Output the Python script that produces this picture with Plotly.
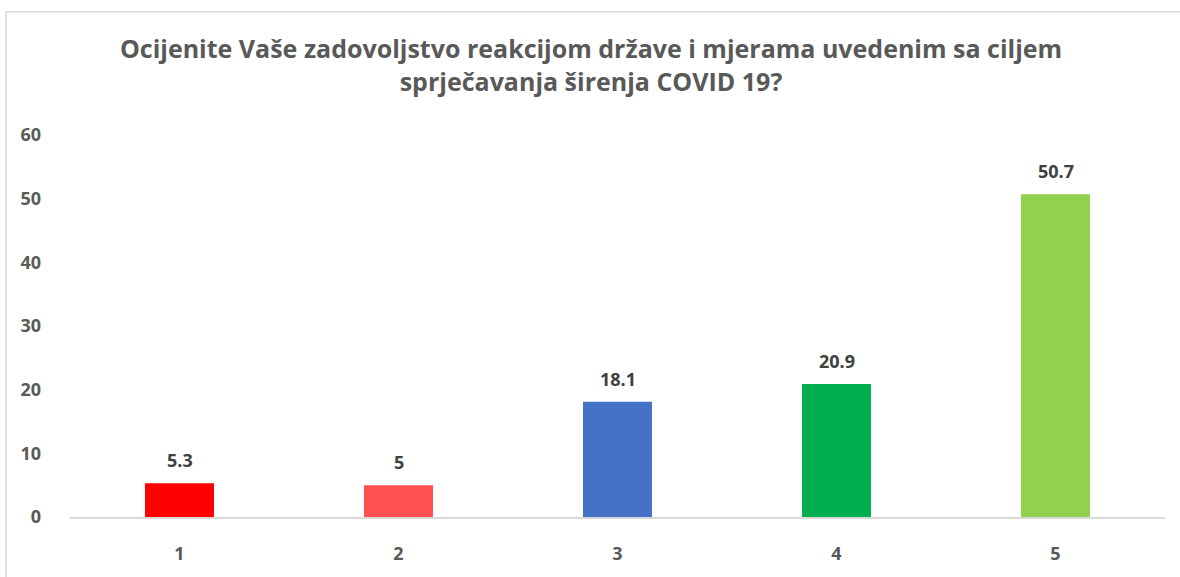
import plotly.graph_objects as go

categories = ["1", "2", "3", "4", "5"]
values = [5.3, 5, 18.1, 20.9, 50.7]
value_labels = ["5.3", "5", "18.1", "20.9", "50.7"]
bar_colors = ["#FF0000", "#FF5050", "#4472C4", "#00B050", "#92D050"]
y_ticks = [0, 10, 20, 30, 40, 50, 60]
title_text = "Ocijenite Vaše zadovoljstvo reakcijom države i mjerama uvedenim sa ciljem<br>sprječavanja širenja COVID 19?"

W, H = 1180, 577
ML, MR, MT, MB = 70, 15, 135, 58
FONT = "Open Sans"

fig = go.Figure()
fig.add_trace(go.Bar(
    x=categories, y=values,
    marker=dict(color=bar_colors, line=dict(width=0)),
    hoverinfo="skip",
))

for i, (v, t) in enumerate(zip(values, value_labels)):
    fig.add_annotation(x=i, y=v, xref="x", yref="y", text=t, showarrow=False, yanchor="bottom",
                       yshift=9, font=dict(family=FONT, size=18, color="#404040", weight="bold"))

pw = W - ML - MR
ph = H - MT - MB
bx0, by0 = 6, 11
fig.add_shape(type="rect", xref="paper", yref="paper",
              x0=(bx0 - ML) / pw, x1=(W + 20 - ML) / pw,
              y0=-(MB + 20) / ph, y1=((H - MB) - by0) / ph,
              line=dict(color="#D9D9D9", width=1.5), layer="below")

fig.update_layout(
    width=W, height=H,
    margin=dict(l=ML, r=MR, t=MT, b=MB),
    paper_bgcolor="white", plot_bgcolor="white",
    bargap=0.685,
    showlegend=False,
    title=dict(text=title_text, x=591 / W, xanchor="center", xref="container",
               y=1 - 58 / H, yanchor="top", yref="container",
               font=dict(family=FONT, size=25, color="#595959", weight="bold")),
    xaxis=dict(type="category", showline=True, linecolor="#D9D9D9", linewidth=1.5, showgrid=False,
               ticks="", ticklabelstandoff=20,
               tickfont=dict(family=FONT, size=18, color="#595959", weight="bold")),
    yaxis=dict(range=[0, 60], tickvals=y_ticks, showgrid=False, zeroline=False,
               showline=False, ticks="", ticklabelstandoff=28,
               tickfont=dict(family=FONT, size=18, color="#595959", weight="bold")),
)

fig.write_html("out.html", config={"displayModeBar": False},
               post_script="document.body.style.margin='0';document.body.style.overflow='hidden';")
